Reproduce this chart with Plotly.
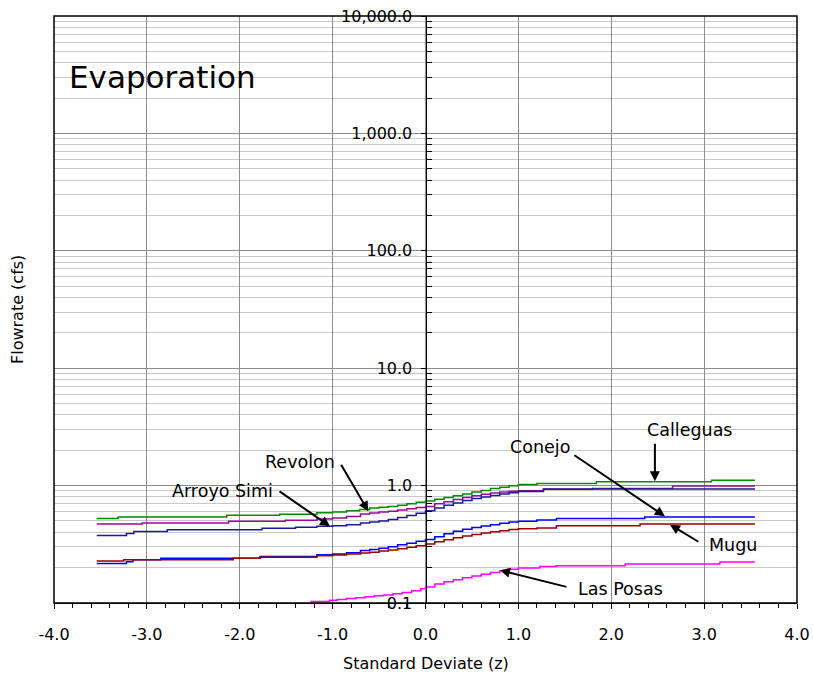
import plotly.graph_objects as go
import math

# ---------------- data ----------------
calleguas_z = [-3.54, -3.31, -2.14, -1.57, -1.17, -1.00, -0.85, -0.71, -0.60, -0.50, -0.40, -0.30, -0.20, -0.10, 0.00,
               0.10, 0.20, 0.30, 0.40, 0.50, 0.60, 0.70, 0.80, 0.90, 1.00, 1.20, 1.84, 3.08, 3.547]
calleguas_q = [0.524, 0.541, 0.559, 0.569, 0.586, 0.595, 0.610, 0.625, 0.646, 0.655, 0.665, 0.680, 0.700, 0.720, 0.740,
               0.765, 0.790, 0.820, 0.850, 0.880, 0.910, 0.945, 0.970, 0.995, 1.020, 1.040, 1.080, 1.110, 1.110]

revolon_z = [-3.54, -3.05, -2.12, -1.51, -1.17, -1.00, -0.85, -0.70, -0.60, -0.50, -0.40, -0.30, -0.20, -0.10, 0.00,
             0.10, 0.20, 0.30, 0.40, 0.50, 0.60, 0.70, 0.80, 0.90, 1.00, 1.27, 1.80, 2.66, 3.547]
revolon_q = [0.472, 0.481, 0.4965, 0.506, 0.520, 0.530, 0.545, 0.574, 0.585, 0.595, 0.605, 0.620, 0.635, 0.650, 0.665,
             0.700, 0.730, 0.760, 0.790, 0.820, 0.845, 0.865, 0.880, 0.895, 0.906, 0.930, 0.945, 0.990, 0.990]

arroyo_z = [-3.54, -3.22, -3.14, -2.78, -1.76, -1.40, -1.17, -1.00, -0.85, -0.70, -0.60, -0.50, -0.40, -0.30, -0.20,
            -0.10, 0.00, 0.10, 0.20, 0.30, 0.40, 0.50, 0.60, 0.70, 0.80, 0.90, 1.00, 1.27, 3.547]
arroyo_q = [0.375, 0.390, 0.406, 0.420, 0.433, 0.441, 0.450, 0.455, 0.465, 0.481, 0.490, 0.500, 0.515, 0.535, 0.555,
            0.580, 0.610, 0.645, 0.680, 0.710, 0.745, 0.775, 0.800, 0.825, 0.850, 0.870, 0.890, 0.937, 0.937]

conejo_z = [-3.54, -3.22, -3.15, -2.85, -1.78, -1.17, -1.00, -0.85, -0.70, -0.60, -0.50, -0.40, -0.30, -0.20, -0.10,
            0.00, 0.10, 0.20, 0.30, 0.40, 0.50, 0.60, 0.70, 0.80, 0.90, 1.00, 1.20, 1.41, 2.36, 3.547]
conejo_q = [0.217, 0.225, 0.234, 0.241, 0.249, 0.258, 0.262, 0.268, 0.280, 0.285, 0.293, 0.302, 0.313, 0.323, 0.335,
            0.347, 0.367, 0.388, 0.408, 0.425, 0.440, 0.452, 0.465, 0.478, 0.490, 0.497, 0.510, 0.524, 0.541, 0.541]

mugu_z = [-3.54, -3.25, -2.07, -1.78, -1.17, -1.00, -0.85, -0.70, -0.60, -0.50, -0.40, -0.30, -0.20, -0.10, 0.00,
          0.10, 0.20, 0.30, 0.40, 0.50, 0.60, 0.70, 0.80, 0.90, 1.00, 1.20, 1.41, 2.31, 3.547]
mugu_q = [0.228, 0.234, 0.241, 0.245, 0.253, 0.256, 0.261, 0.267, 0.271, 0.277, 0.283, 0.290, 0.298, 0.307, 0.318,
          0.332, 0.346, 0.359, 0.372, 0.383, 0.394, 0.404, 0.413, 0.422, 0.430, 0.436, 0.456, 0.472, 0.472]

lasposas_z = [-1.24, -1.03, -0.95, -0.85, -0.75, -0.65, -0.55, -0.45, -0.35, -0.25, -0.15, -0.05, 0.00, 0.10, 0.20,
              0.30, 0.40, 0.50, 0.60, 0.70, 0.80, 0.90, 1.00, 1.23, 1.41, 2.15, 3.17, 3.547]
lasposas_q = [0.103, 0.1055, 0.107, 0.109, 0.111, 0.113, 0.115, 0.117, 0.120, 0.123, 0.127, 0.132, 0.137, 0.145, 0.152,
              0.158, 0.164, 0.170, 0.176, 0.182, 0.188, 0.194, 0.199, 0.205, 0.208, 0.215, 0.224, 0.224]

x_ticks = [-4, -3, -2, -1, 0, 1, 2, 3, 4]
x_labels = ["-4.0", "-3.0", "-2.0", "-1.0", "0.0", "1.0", "2.0", "3.0", "4.0"]
y_ticks = [0.1, 1, 10, 100, 1000, 10000]
y_labels = ["0.1", "1.0", "10.0", "100.0", "1,000.0", "10,000.0"]

series = [
    ("Calleguas", calleguas_z, calleguas_q, "#008a00"),
    ("Revolon", revolon_z, revolon_q, "#9a0a9a"),
    ("Arroyo Simi", arroyo_z, arroyo_q, "#1a1a9a"),
    ("Conejo", conejo_z, conejo_q, "#0000ff"),
    ("Mugu", mugu_z, mugu_q, "#990000"),
    ("Las Posas", lasposas_z, lasposas_q, "#ff00ff"),
]

# ---------------- layout geometry ----------------
W, H = 813, 675
L, R, T, B = 54, 16, 16, 72
PW, PH = W - L - R, H - T - B


def px(xpix):
    return (xpix - L) / PW


def py(ypix):
    return (H - B - ypix) / PH


FONT = "DejaVu Sans"

fig = go.Figure()
for name, z, q, col in series:
    fig.add_trace(go.Scatter(x=z, y=q, mode="lines", name=name,
                             line=dict(color=col, width=1.5, shape="hv"),
                             showlegend=False))

minor_vals = [m * 10 ** e for e in range(-1, 4) for m in range(2, 10)]

fig.update_layout(
    width=W, height=H,
    margin=dict(l=L, r=R, t=T, b=B, autoexpand=False),
    paper_bgcolor="white", plot_bgcolor="white",
    font=dict(family=FONT, size=16, color="black"),
    xaxis=dict(range=[-4, 4], tickvals=x_ticks, ticktext=x_labels,
               automargin=False,
               ticks="outside", ticklen=5, tickcolor="black",
               showgrid=True, gridcolor="#8c8c8c", gridwidth=1,
               zeroline=False, showline=True, linecolor="black", linewidth=1,
               ticklabelstandoff=12,
               minor=dict(dtick=0.2, ticks="outside", ticklen=4,
                          tickcolor="black", showgrid=False),
               tickfont=dict(family=FONT, size=16)),
    yaxis=dict(type="log", range=[-1, 4], tickvals=y_ticks, ticktext=y_labels,
               automargin=False,
               anchor="free", position=0.5,
               ticks="outside", ticklen=5, tickcolor="black",
               showgrid=True, gridcolor="#8c8c8c", gridwidth=1,
               showline=True, linecolor="black", linewidth=1,
               ticklabelstandoff=5,
               minor=dict(tickvals=minor_vals, ticks="inside", ticklen=5,
                          tickcolor="black", showgrid=True,
                          gridcolor="#c8c8c8", gridwidth=1),
               tickfont=dict(family=FONT, size=16)),
    xaxis2=dict(overlaying="x", anchor="y", side="bottom", range=[-4, 4],
                automargin=False,
                tickvals=x_ticks, ticks="inside", ticklen=5, tickcolor="black",
                showticklabels=False, showgrid=False, zeroline=False, showline=False),
    yaxis2=dict(overlaying="y", anchor="free", position=0.5, type="log",
                automargin=False,
                range=[-1, 4], tickvals=y_ticks, ticks="inside", ticklen=5,
                tickcolor="black", showticklabels=False, showgrid=False,
                showline=False),
    showlegend=False,
)

# frame
fig.add_shape(type="rect", xref="paper", yref="paper", x0=0, x1=1, y0=0, y1=1,
              line=dict(color="black", width=1.5), layer="above")

# titles
fig.add_annotation(text="Evaporation", xref="paper", yref="paper",
                   x=px(67), y=py(77), xanchor="left", yanchor="middle",
                   showarrow=False, font=dict(family=FONT, size=31))
fig.add_annotation(text="Standard Deviate (z)", xref="paper", yref="paper",
                   x=px(426), y=py(663), xanchor="center", yanchor="middle",
                   showarrow=False, font=dict(family=FONT, size=16))
fig.add_annotation(text="Flowrate (cfs)", xref="paper", yref="paper",
                   x=px(18), y=py(310), xanchor="center", yanchor="middle",
                   textangle=-90, showarrow=False, font=dict(family=FONT, size=16))

# labels
labels = [
    ("Calleguas", 689, 430),
    ("Conejo", 540, 447),
    ("Mugu", 733, 545),
    ("Las Posas", 620, 589),
    ("Revolon", 300, 462),
    ("Arroyo Simi", 222, 491),
]
for txt, lx, ly in labels:
    fig.add_annotation(text=txt, xref="paper", yref="paper", x=px(lx), y=py(ly),
                       xanchor="center", yanchor="middle", showarrow=False,
                       font=dict(family=FONT, size=17.5))

# arrows: tip in data coords, tail offset in pixels
arrows = [
    (2.47, 1.088, 0, -39),
    (2.578, 0.548, -92, -62),
    (2.632, 0.465, 30, 18),
    (0.802, 0.190, 68, 17),
    (-0.616, 0.604, -28, -48),
    (-1.028, 0.450, -52, -36),
]
for zx, qv, ax, ay in arrows:
    fig.add_annotation(text="", x=zx, y=math.log10(qv), xref="x", yref="y",
                       ax=ax, ay=ay, showarrow=True, arrowhead=2,
                       arrowsize=1, arrowwidth=2, arrowcolor="black")

fig.write_html("out.html", config={"displayModeBar": False},
               post_script="document.body.style.margin='0';document.body.style.overflow='hidden';")
